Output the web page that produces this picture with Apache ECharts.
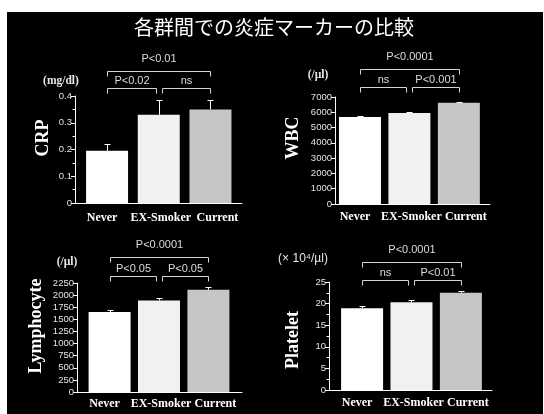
<!DOCTYPE html>
<html>
<head>
<meta charset="utf-8">
<script src="https://cdn.jsdelivr.net/npm/echarts@6/dist/echarts.min.js"></script>
<style>
  html, body { margin: 0; padding: 0; background: #fff; }
  #c { width: 544px; height: 414px; }
</style>
</head>
<body>
<div id="c"></div>
<script>
// Groups compared in every panel
const categories = ['Never', 'EX-Smoker', 'Current'];

// CRP (mg/dl): mean and SEM
const crpMean = [0.195, 0.33, 0.35];
const crpSem = [0.025, 0.055, 0.035];
const crpTicks = [0, 0.1, 0.2, 0.3, 0.4];
const crpStats = [[0, 2, 'P<0.01'], [0, 1, 'P<0.02'], [1, 2, 'ns']];

// WBC (/µl)
const wbcMean = [5690, 5960, 6630];
const wbcSem = [45, 45, 55];
const wbcTicks = [0, 1000, 2000, 3000, 4000, 5000, 6000, 7000];
const wbcStats = [[0, 2, 'P<0.0001'], [0, 1, 'ns'], [1, 2, 'P<0.001']];

// Lymphocyte (/µl)
const lymMean = [1650, 1890, 2110];
const lymSem = [45, 45, 50];
const lymTicks = [0, 250, 500, 750, 1000, 1250, 1500, 1750, 2000, 2250];
const lymStats = [[0, 2, 'P<0.0001'], [0, 1, 'P<0.05'], [1, 2, 'P<0.05']];

// Platelet (×10⁴/µl)
const pltMean = [18.9, 20.3, 22.5];
const pltSem = [0.5, 0.5, 0.5];
const pltTicks = [0, 5, 10, 15, 20, 25];
const pltStats = [[0, 2, 'P<0.0001'], [0, 1, 'ns'], [1, 2, 'P<0.01']];

const barColors = ['#ffffff', '#f1f1f1', '#c6c6c6'];
// horizontal nudge of each group name so the long names do not collide
const nameShift = [-5, 2, 7];
const SERIF = '"Liberation Serif", "Times New Roman", serif';
const SANS = '"Liberation Sans", Arial, sans-serif';

// Panel layout: grid box, x extent (in group-index units), bracket rows, labels
const panels = [
  { title: 'CRP', unit: '(mg/dl)', unitFont: SERIF, unitBold: true, unitAt: [61, 81],
    titleAt: [43, 138], mean: crpMean, sem: crpSem, ticks: crpTicks, stats: crpStats,
    grid: { left: 75, top: 96, width: 167, height: 107 }, xr: [-0.62, 2.61],
    minor: true, labelGap: 15, bracketY: [88, 71] },
  { title: 'WBC', unit: '(/µl)', unitFont: SERIF, unitBold: true, unitAt: [318, 75],
    titleAt: [293, 138], mean: wbcMean, sem: wbcSem, ticks: wbcTicks, stats: wbcStats,
    grid: { left: 335, top: 97, width: 155, height: 107 }, xr: [-0.505, 2.63],
    minor: false, labelGap: 13, bracketY: [87, 69] },
  { title: 'Lymphocyte', unit: '(/µl)', unitFont: SERIF, unitBold: true, unitAt: [67, 262],
    titleAt: [36, 326], mean: lymMean, sem: lymSem, ticks: lymTicks, stats: lymStats,
    grid: { left: 77, top: 283, width: 165, height: 109 }, xr: [-0.66, 2.68],
    minor: false, labelGap: 12, bracketY: [276, 257] },
  { title: 'Platelet', unit: '(× 10⁴/µl)', unitFont: SANS, unitBold: false, unitAt: [303, 259],
    titleAt: [293, 340], mean: pltMean, sem: pltSem, ticks: pltTicks, stats: pltStats,
    grid: { left: 329, top: 282, width: 163, height: 108 }, xr: [-0.67, 2.63],
    minor: true, labelGap: 13, bracketY: [280, 262] }
];

const crisp = v => Math.round(v) + 0.5;

const grid = [], xAxis = [], yAxis = [], series = [];
const graphic = [
  // black stage behind everything
  { type: 'rect', z: -100, silent: true, shape: { x: 7, y: 12, width: 536, height: 402 },
    style: { fill: '#000' } },
  { type: 'text', x: 274, y: 27, silent: true,
    style: { text: '各群間での炎症マーカーの比較', fill: '#fff', fontSize: 20,
      fontFamily: '"Noto Sans CJK JP", sans-serif', align: 'center', verticalAlign: 'middle' } }
];

panels.forEach((p, i) => {
  grid.push(p.grid);
  const step = p.ticks[1] - p.ticks[0];
  xAxis.push({
    gridIndex: i, type: 'value', min: p.xr[0], max: p.xr[1],
    axisLine: { show: true, onZero: false, lineStyle: { color: '#fff', width: 1 } },
    axisTick: { show: false }, splitLine: { show: false }, axisLabel: { show: false }
  });
  yAxis.push({
    gridIndex: i, type: 'value', min: p.ticks[0], max: p.ticks[p.ticks.length - 1], interval: step,
    axisLine: { show: true, onZero: false, lineStyle: { color: '#fff', width: 1 } },
    axisTick: { show: true, length: 4, lineStyle: { color: '#fff' } },
    minorTick: { show: p.minor, splitNumber: 2, length: 2.5, lineStyle: { color: '#fff' } },
    splitLine: { show: false },
    axisLabel: { color: '#e4e4e4', fontFamily: SANS, fontSize: 9.5, margin: 3,
      formatter: v => String(v), showMinLabel: true, showMaxLabel: true }
  });

  series.push({
    type: 'bar', xAxisIndex: i, yAxisIndex: i, barWidth: 42,
    data: p.mean.map((m, k) => ({ value: [k, m], itemStyle: { color: barColors[k] } })),
    z: 2
  });

  // group names under each bar
  series.push({
    type: 'custom', xAxisIndex: i, yAxisIndex: i, z: 3, silent: true,
    data: categories.map((c, k) => [k, 0]),
    renderItem: (params, api) => {
      const pt = api.coord([api.value(0), 0]);
      const k = params.dataIndex;
      return {
        type: 'text', x: pt[0] + nameShift[k], y: pt[1] + p.labelGap,
        style: { text: categories[k], fill: '#fff', fontSize: 12, fontWeight: 'bold',
          fontFamily: SERIF, align: 'center', verticalAlign: 'middle' }
      };
    }
  });

  // upward SEM whiskers with caps
  series.push({
    type: 'custom', xAxisIndex: i, yAxisIndex: i, z: 3, silent: true,
    data: p.mean.map((m, k) => [k, m, m + p.sem[k]]),
    renderItem: (params, api) => {
      const base = api.coord([api.value(0), api.value(1)]);
      const top = api.coord([api.value(0), api.value(2)]);
      const x = crisp(base[0]);
      const yt = crisp(top[1]);
      return {
        type: 'group', children: [
          { type: 'line', shape: { x1: x, y1: base[1], x2: x, y2: yt }, style: { stroke: '#fff', lineWidth: 1 } },
          { type: 'line', shape: { x1: x - 3, y1: yt, x2: x + 3, y2: yt }, style: { stroke: '#fff', lineWidth: 1 } }
        ]
      };
    }
  });

  // significance brackets
  series.push({
    type: 'custom', xAxisIndex: i, yAxisIndex: i, z: 3, silent: true,
    data: p.stats.map(s => [s[0], s[1]]),
    renderItem: (params, api) => {
      const s = p.stats[params.dataIndex];
      const outer = s[1] - s[0] > 1;
      let x1 = api.coord([s[0], 0])[0];
      let x2 = api.coord([s[1], 0])[0];
      if (!outer) {
        if (s[0] === 1) x1 += 3;
        if (s[1] === 1) x2 -= 3;
      }
      const y = crisp(p.bracketY[outer ? 1 : 0]);
      x1 = crisp(x1); x2 = crisp(x2);
      return {
        type: 'group', children: [
          { type: 'polyline', shape: { points: [[x1, y + 5], [x1, y], [x2, y], [x2, y + 5]] },
            style: { stroke: '#d6d6d6', lineWidth: 1, fill: null } },
          { type: 'text', x: (x1 + x2) / 2, y: y - (outer ? 12.5 : 8),
            style: { text: s[2], fill: '#dcdcdc', fontSize: 11, fontFamily: SANS,
              align: 'center', verticalAlign: 'middle' } }
        ]
      };
    }
  });

  graphic.push({
    type: 'text', x: p.titleAt[0], y: p.titleAt[1], rotation: Math.PI / 2, silent: true,
    style: { text: p.title, fill: '#fff', fontSize: 18, fontWeight: 'bold', fontFamily: SERIF,
      align: 'center', verticalAlign: 'middle' }
  });
  graphic.push({
    type: 'text', x: p.unitAt[0], y: p.unitAt[1], silent: true,
    style: { text: p.unit, fill: '#e8e8e8', fontSize: p.unitBold ? 11.5 : 12,
      fontWeight: p.unitBold ? 'bold' : 'normal', fontFamily: p.unitFont,
      align: 'center', verticalAlign: 'middle' }
  });
});

const chart = echarts.init(document.getElementById('c'), null, { renderer: 'canvas' });
chart.setOption({
  backgroundColor: '#fff',
  animation: false,
  grid, xAxis, yAxis, series, graphic
});
</script>
</body>
</html>
